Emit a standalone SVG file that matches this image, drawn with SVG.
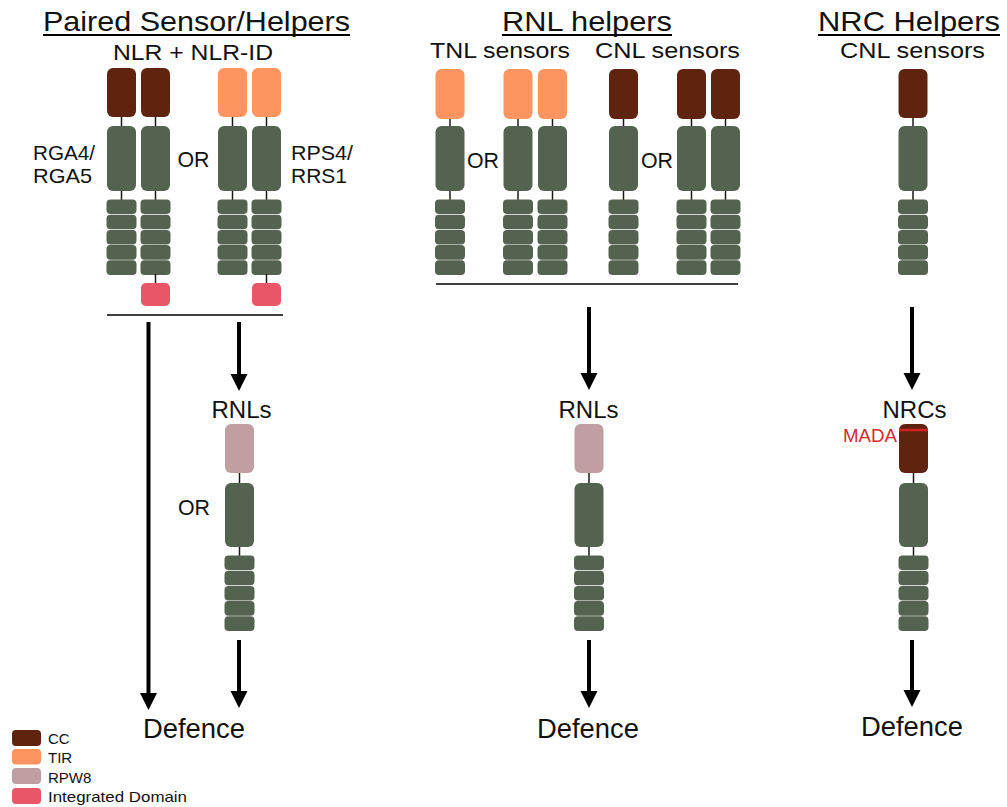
<svg xmlns="http://www.w3.org/2000/svg" width="1007" height="807" viewBox="0 0 1007 807">
<style>
text{font-family:"Liberation Sans",Arial,sans-serif;fill:#111}
.t{font-size:28px;text-anchor:middle}
.s{font-size:22px;text-anchor:middle}
.l{font-size:21px}
.d{font-size:27px;text-anchor:middle}
.g{font-size:15px}
.cc{fill:#5e2410}
.tir{fill:#fe9561}
.rpw{fill:#c09ea2}
.id{fill:#e95668}
.nb{fill:#54634f}
.st{stroke:#1a1a1a;stroke-width:1.5}
.ul{stroke:#000;stroke-width:2}
.hr{stroke:#000;stroke-width:1.5}
.ar{stroke:#000;stroke-width:4;marker-end:url(#ah)}
</style>
<defs>
<marker id="ah" markerUnits="userSpaceOnUse" markerWidth="18" markerHeight="18" viewBox="0 0 18 18" refX="7" refY="8.5" orient="auto">
<path d="M0,0 L17,8.5 L0,17 z" fill="#000"/>
</marker>
<g id="lrr" class="nb">
<rect x="-0.5" y="0" width="30" height="14.6" rx="4"/>
<rect x="-0.5" y="15.2" width="30" height="14.6" rx="4"/>
<rect x="-0.5" y="30.4" width="30" height="14.6" rx="4"/>
<rect x="-0.5" y="45.6" width="30" height="14.6" rx="4"/>
<rect x="-0.5" y="60.8" width="30" height="14.6" rx="4"/>
</g>
<g id="body">
<line class="st" x1="14.5" y1="110" x2="14.5" y2="205"/>
<rect class="nb" x="0" y="126" width="29" height="65" rx="6"/>
<use href="#lrr" y="199.5"/>
</g>
<g id="bodyB">
<line class="st" x1="14.5" y1="465" x2="14.5" y2="560"/>
<rect class="nb" x="0" y="483" width="29" height="64" rx="6"/>
<use href="#lrr" y="555.5"/>
</g>
</defs>

<!-- titles -->
<g id="titles">
<text class="t" x="196.5" y="31" textLength="307" lengthAdjust="spacingAndGlyphs">Paired Sensor/Helpers</text>
<line class="ul" x1="43" y1="35" x2="350" y2="35"/>
<text class="s" x="193" y="60" textLength="160" lengthAdjust="spacingAndGlyphs">NLR + NLR-ID</text>
<text class="t" x="587" y="31" textLength="170" lengthAdjust="spacingAndGlyphs">RNL helpers</text>
<line class="ul" x1="502" y1="35" x2="672" y2="35"/>
<text class="s" x="500" y="58" textLength="140" lengthAdjust="spacingAndGlyphs">TNL sensors</text>
<text class="s" x="667.5" y="58" textLength="145" lengthAdjust="spacingAndGlyphs">CNL sensors</text>
<text class="t" x="909" y="31" textLength="182" lengthAdjust="spacingAndGlyphs">NRC Helpers</text>
<line class="ul" x1="818" y1="35" x2="1000" y2="35"/>
<text class="s" x="912.5" y="58" textLength="145" lengthAdjust="spacingAndGlyphs">CNL sensors</text>
</g>

<!-- Paired sensor/helpers -->
<g id="rga4">
<use href="#body" x="107"/>
<rect class="cc" x="107" y="68" width="29" height="49" rx="6"/>
</g>
<g id="rga5">
<use href="#body" x="141"/>
<line class="st" x1="155.5" y1="274" x2="155.5" y2="285"/>
<rect class="cc" x="141" y="68" width="29" height="49" rx="6"/>
<rect class="id" x="141" y="283" width="29" height="23" rx="5"/>
</g>
<g id="rps4">
<use href="#body" x="218"/>
<rect class="tir" x="218" y="68" width="29" height="49" rx="6"/>
</g>
<g id="rrs1">
<use href="#body" x="252"/>
<line class="st" x1="266.5" y1="274" x2="266.5" y2="285"/>
<rect class="tir" x="252" y="68" width="29" height="49" rx="6"/>
<rect class="id" x="252" y="283" width="29" height="23" rx="5"/>
</g>
<g id="paired-labels">
<text class="l" x="33" y="160" textLength="62" lengthAdjust="spacingAndGlyphs">RGA4/</text>
<text class="l" x="33" y="183" textLength="59" lengthAdjust="spacingAndGlyphs">RGA5</text>
<text class="s" x="193.5" y="167" textLength="32" lengthAdjust="spacingAndGlyphs">OR</text>
<text class="l" x="291" y="160" textLength="62" lengthAdjust="spacingAndGlyphs">RPS4/</text>
<text class="l" x="291" y="183" textLength="56" lengthAdjust="spacingAndGlyphs">RRS1</text>
</g>

<!-- RNL helpers sensors -->
<g id="tnl1">
<use href="#body" x="435.5"/>
<rect class="tir" x="435.5" y="69" width="29" height="50" rx="6"/>
</g>
<g id="tnl2">
<use href="#body" x="503.5"/>
<rect class="tir" x="503.5" y="69" width="29" height="50" rx="6"/>
</g>
<g id="tnl3">
<use href="#body" x="538"/>
<rect class="tir" x="538" y="69" width="29" height="50" rx="6"/>
</g>
<g id="cnl1">
<use href="#body" x="609"/>
<rect class="cc" x="609" y="69" width="29" height="50" rx="6"/>
</g>
<g id="cnl2">
<use href="#body" x="677"/>
<rect class="cc" x="677" y="69" width="29" height="50" rx="6"/>
</g>
<g id="cnl3">
<use href="#body" x="711"/>
<rect class="cc" x="711" y="69" width="29" height="50" rx="6"/>
</g>
<g id="rnl-labels">
<text class="s" x="483" y="168" textLength="32" lengthAdjust="spacingAndGlyphs">OR</text>
<text class="s" x="657" y="168" textLength="32" lengthAdjust="spacingAndGlyphs">OR</text>
</g>

<!-- NRC sensor -->
<g id="nrc-sensor">
<use href="#body" x="898.5"/>
<rect class="cc" x="898.5" y="69" width="29" height="49" rx="6"/>
</g>

<!-- lower helpers -->
<g id="rnl-left">
<text class="s" x="241.5" y="418" style="font-size:24px" textLength="60" lengthAdjust="spacingAndGlyphs">RNLs</text>
<use href="#bodyB" x="225"/>
<rect class="rpw" x="225" y="424" width="29" height="49" rx="6"/>
<text class="s" x="194" y="515" textLength="32" lengthAdjust="spacingAndGlyphs">OR</text>
</g>
<g id="rnl-mid">
<text class="s" x="588.5" y="418" style="font-size:24px" textLength="60" lengthAdjust="spacingAndGlyphs">RNLs</text>
<use href="#bodyB" x="574.5"/>
<rect class="rpw" x="574.5" y="424" width="29" height="49" rx="6"/>
</g>
<g id="nrcs">
<text class="s" x="914.5" y="418" style="font-size:24px" textLength="64" lengthAdjust="spacingAndGlyphs">NRCs</text>
<use href="#bodyB" x="899"/>
<rect class="cc" x="899" y="424" width="29" height="49" rx="6"/>
<line x1="899" y1="430" x2="928" y2="430" stroke="#d42020" stroke-width="2.5"/>
<text x="897" y="442" style="font-size:18px;fill:#d42a2a;text-anchor:end" textLength="54" lengthAdjust="spacingAndGlyphs">MADA</text>
</g>

<!-- connectors -->
<g id="connectors">
<line class="hr" x1="107" y1="315" x2="283" y2="315"/>
<line class="hr" x1="436" y1="284" x2="738" y2="284"/>
<line class="ar" x1="148.5" y1="322" x2="148.5" y2="700"/>
<line class="ar" x1="239" y1="322" x2="239" y2="381"/>
<line class="ar" x1="589" y1="307" x2="589" y2="380"/>
<line class="ar" x1="912" y1="307" x2="912" y2="380"/>
<line class="ar" x1="239" y1="640" x2="239" y2="698"/>
<line class="ar" x1="589" y1="640" x2="589" y2="698"/>
<line class="ar" x1="912" y1="640" x2="912" y2="697"/>
</g>

<g id="defence">
<text class="d" x="194" y="738" textLength="102" lengthAdjust="spacingAndGlyphs">Defence</text>
<text class="d" x="588" y="738" textLength="102" lengthAdjust="spacingAndGlyphs">Defence</text>
<text class="d" x="912" y="736" textLength="102" lengthAdjust="spacingAndGlyphs">Defence</text>
</g>

<g id="legend">
<rect class="cc" x="12" y="730" width="29" height="16" rx="4"/>
<rect class="tir" x="12" y="749" width="29" height="15.5" rx="4"/>
<rect class="rpw" x="12" y="768" width="29" height="16" rx="4"/>
<rect class="id" x="12" y="788" width="29" height="16" rx="4"/>
<text class="g" x="48" y="743.5">CC</text>
<text class="g" x="48" y="763">TIR</text>
<text class="g" x="48" y="782.5">RPW8</text>
<text class="g" x="48" y="801.5" textLength="139" lengthAdjust="spacingAndGlyphs">Integrated Domain</text>
</g>
</svg>
